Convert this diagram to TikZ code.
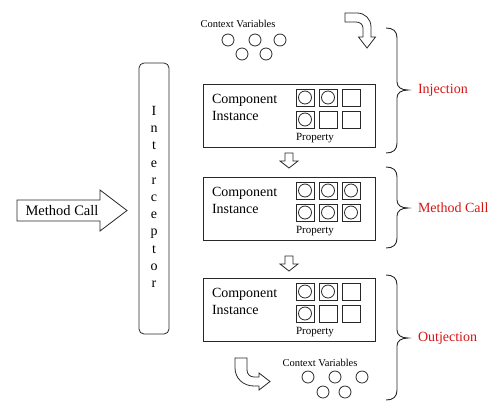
\documentclass[tikz,border=0pt]{standalone}
\usepackage{fontspec}
\setmainfont{Liberation Serif}
\definecolor{labred}{RGB}{215,20,20}
\definecolor{ink}{RGB}{40,40,40}
\begin{document}
\begin{tikzpicture}[x=1pt,y=-1pt, line width=0.8pt, draw=ink,
  every node/.style={inner sep=0pt, outer sep=0pt},
  compbox/.style={draw=ink, minimum width=172pt, minimum height=63pt},
  prop/.style={draw=ink, minimum width=18pt, minimum height=17pt},
  ball/.style={draw=ink, circle, minimum size=12pt},
  pball/.style={draw=ink, circle, minimum size=13pt},
  blockarrow/.style={draw=ink, fill=white, line join=miter},
  bracepath/.style={draw=ink, line width=0.9pt},
  labtext/.style={text=labred, font=\fontsize{14}{16}\selectfont, anchor=west},
  comptext/.style={font=\fontsize{14}{17}\selectfont, align=left, anchor=west},
  proptext/.style={font=\fontsize{11}{13}\selectfont},
  ctxtext/.style={font=\fontsize{10.5}{12}\selectfont}]
\useasboundingbox (0,0) rectangle (500,416);

% Interceptor
\node[draw=ink, rounded corners=5pt, minimum width=30pt, minimum height=271pt] (icp) at (154,198.5) {};
\node[font=\fontsize{14}{17.2}\selectfont, align=center] (icpt) at (154,197) {I\\n\\t\\e\\r\\c\\e\\p\\t\\o\\r};

% Method Call arrow
\draw[blockarrow] (17,200) -- (100,200) -- (100,190) -- (127,210.5) -- (100,231) -- (100,221) -- (17,221) -- cycle;
\node[font=\fontsize{14.5}{17}\selectfont] (mc) at (62,210.5) {Method Call};

% Component boxes
\foreach \b/\t in {1/84,2/177,3/278} {
  \node[compbox] (b\b) at (289,\t+31.5) {};
  \node[comptext] (b\b t) at (212,\t+23) {Component\\Instance};
  \node[proptext] (b\b p) at (315,\t+54) {Property};
  \foreach \c/\x in {1/305,2/328,3/351} {
    \foreach \r/\dy in {1/13.5,2/35.5} {
      \node[prop] (b\b s\r\c) at (\x,\t+\dy) {};
    }
  }
}
\foreach \n in {b1s11,b1s12,b1s21,b2s11,b2s12,b2s13,b2s21,b2s22,b2s23,b3s11,b3s12,b3s21} {
  \node[pball] (\n c) at (\n) {};
}

% small down arrows
\draw[blockarrow] (285,153) -- (293,153) -- (293,161) -- (298,161) -- (289,168) -- (280,161) -- (285,161) -- cycle;
\draw[blockarrow] (285,256) -- (293,256) -- (293,264) -- (298,264) -- (289,271) -- (280,264) -- (285,264) -- cycle;

% Context variables (top)
\node[ctxtext] (ctx1) at (238,24) {Context Variables};
\node[ball] (c1a) at (228,40) {};
\node[ball] (c1b) at (255,40) {};
\node[ball] (c1c) at (280,40) {};
\node[ball] (c1d) at (242,54) {};
\node[ball] (c1e) at (266,54) {};

% Context variables (bottom)
\node[ctxtext] (ctx2) at (320,363) {Context Variables};
\node[ball] (c2a) at (308,377) {};
\node[ball] (c2b) at (335,377) {};
\node[ball] (c2c) at (362,377) {};
\node[ball] (c2d) at (323,392) {};
\node[ball] (c2e) at (345,392) {};

% bent arrow top
\draw[blockarrow] (345,13) -- (357,13) .. controls (365,13) and (371,19) .. (371,27) -- (371,37) -- (375.5,37) -- (367,48) -- (358.5,37) -- (363,37) -- (363,28) .. controls (363,24.5) and (360,22) .. (356,22) -- (345,22) -- cycle;

% bent arrow bottom
\draw[blockarrow] (235,358) -- (247,358) -- (247,370) .. controls (247,374) and (250,377) .. (254,377) -- (259,377) -- (259,373) -- (270,381.5) -- (259,390) -- (259,386) -- (254,386) .. controls (243,386) and (235,378) .. (235,368) -- cycle;

% braces
\foreach \ya/\ym/\yb in {28/90/153, 167/208/248, 275/338/400} {
  \draw[bracepath] (386,\ya) .. controls (393,\ya) and (397,\ya+3) .. (397,\ya+10) -- (397,\ym-8)
    .. controls (397,\ym-3) and (401,\ym) .. (408,\ym)
    .. controls (401,\ym) and (397,\ym+3) .. (397,\ym+8) -- (397,\yb-10)
    .. controls (397,\yb-3) and (393,\yb) .. (386,\yb);
}
\node[labtext] (inj) at (418,90) {Injection};
\node[labtext] (mcl) at (418,208) {Method Call};
\node[labtext] (outj) at (418,338) {Outjection};
\end{tikzpicture}
\end{document}
